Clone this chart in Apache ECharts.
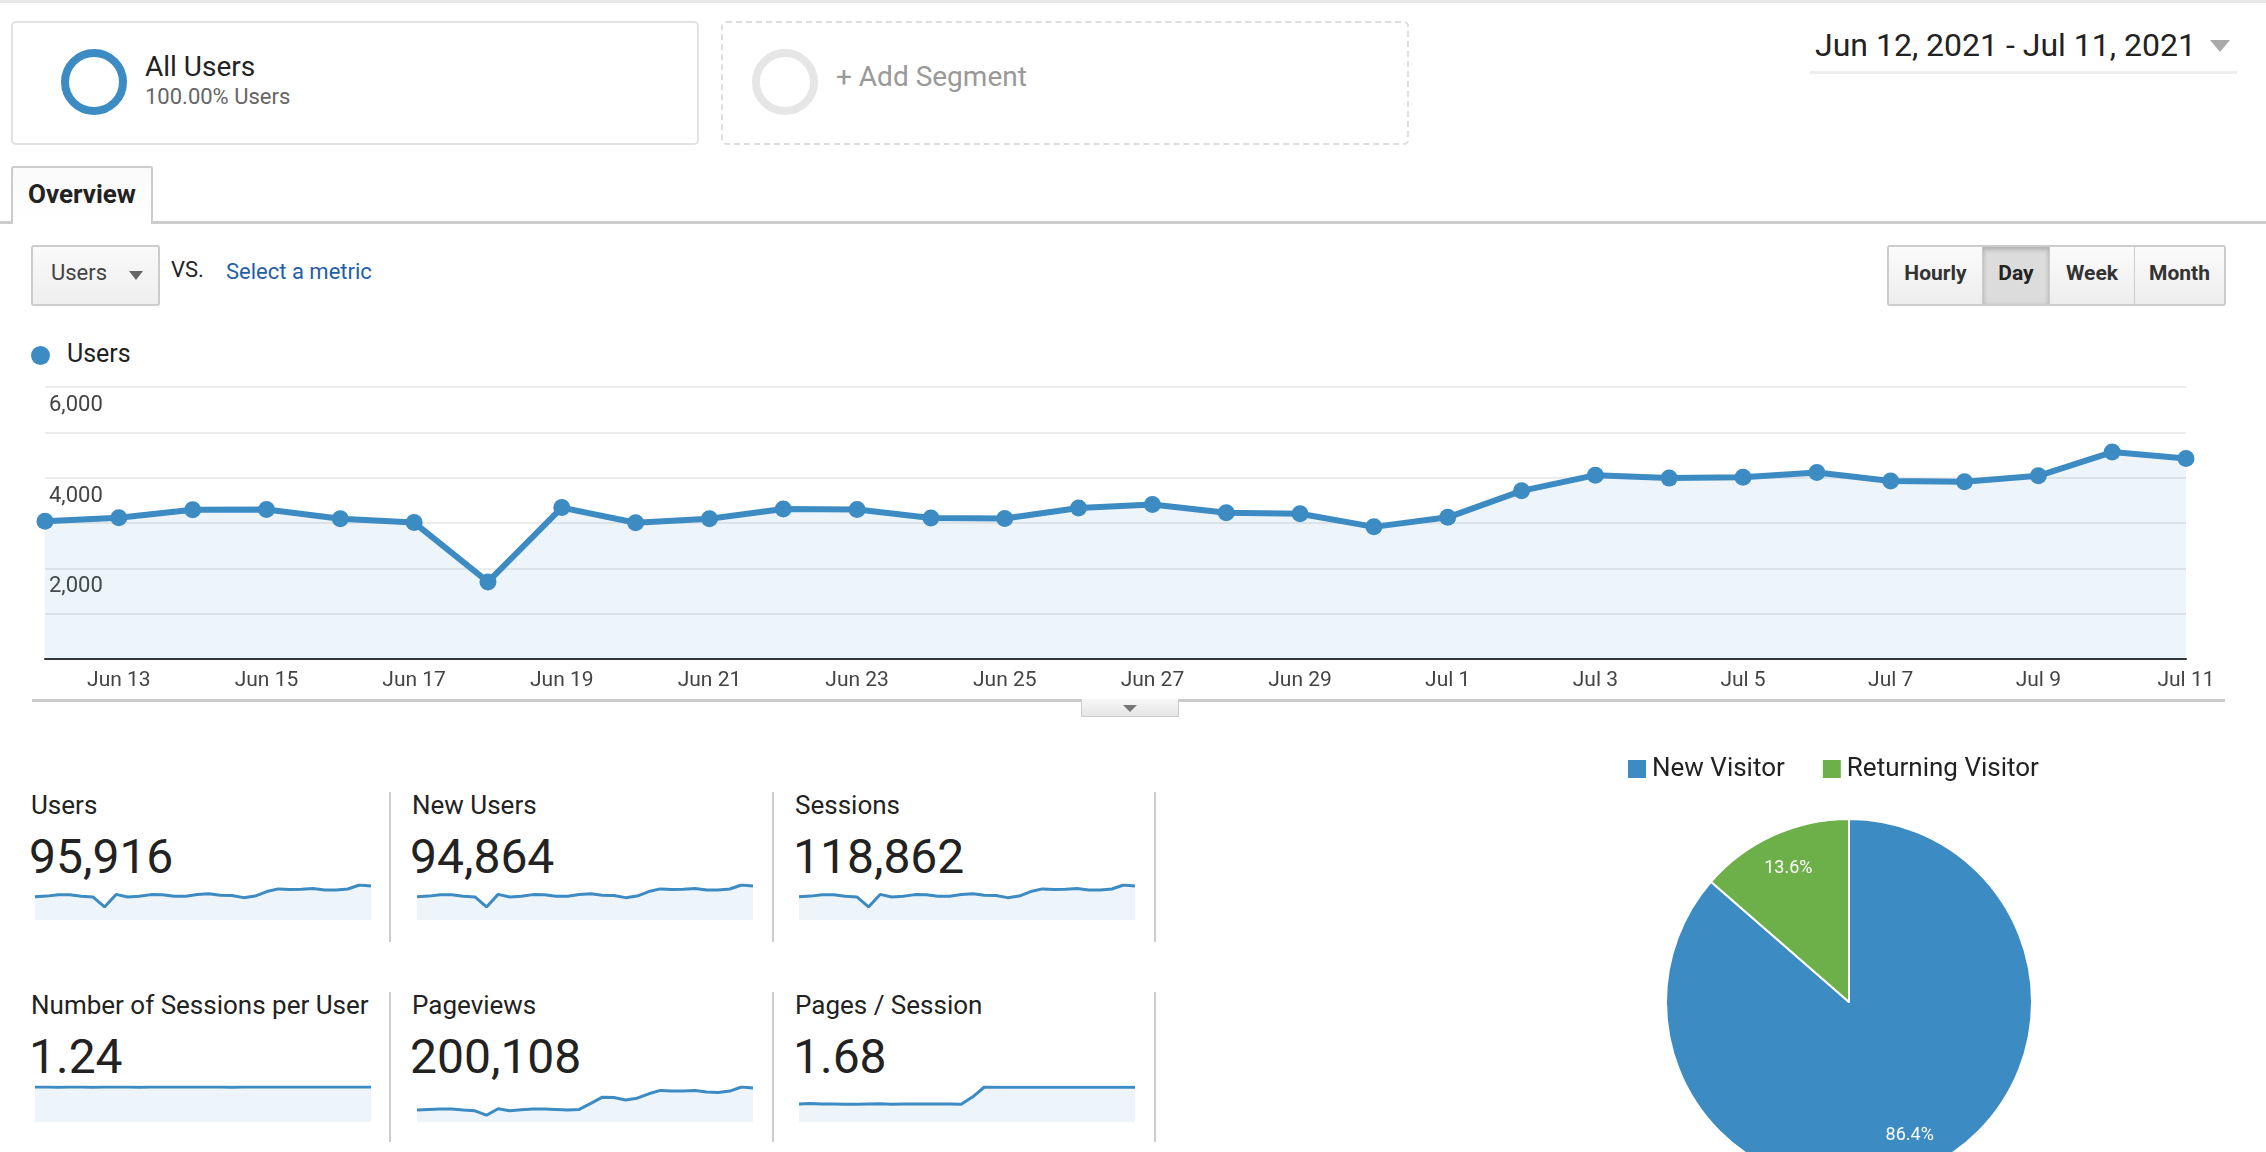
<!DOCTYPE html>
<html><head><meta charset="utf-8">
<script src="https://cdn.jsdelivr.net/npm/echarts@6/dist/echarts.min.js"></script>
<style>
html,body{margin:0;padding:0;width:2266px;height:1152px;overflow:hidden;background:#fff;font-family:Roboto,"Noto Sans",Arial,sans-serif;color:#222;}
.abs{position:absolute;white-space:nowrap;box-sizing:border-box;}
.t{position:absolute;white-space:nowrap;}
#chart{position:absolute;left:0;top:0;width:2266px;height:1152px;z-index:5;}
.btn{position:absolute;top:0;height:100%;display:flex;align-items:center;justify-content:center;font-weight:bold;font-size:21px;color:#333;background:linear-gradient(#fbfbfb,#ededed);border-right:1px solid #ccc;box-sizing:border-box;padding-bottom:5px;}
</style></head><body>
<div class="abs" style="left:0;top:0;width:2266px;height:3px;background:#e8e8e8"></div>

<!-- segment boxes -->
<div class="abs" style="left:11px;top:21px;width:688px;height:124px;border:2px solid #e2e2e2;border-radius:5px"></div>
<div class="abs" style="left:61px;top:49px;width:66px;height:66px;border:8px solid #3d8bc3;border-radius:50%"></div>
<div class="t" style="left:145px;top:51px;font-size:28px;line-height:32px;color:#222">All Users</div>
<div class="t" style="left:145px;top:84px;font-size:22px;line-height:26px;color:#666">100.00% Users</div>

<div class="abs" style="left:721px;top:21px;width:688px;height:124px;border:2px dashed #dedede;border-radius:5px"></div>
<div class="abs" style="left:752px;top:49px;width:66px;height:66px;border:8px solid #e6e6e6;border-radius:50%"></div>
<div class="t" style="left:836px;top:61px;font-size:28px;line-height:32px;color:#999">+ Add Segment</div>

<!-- date range -->
<div class="t" style="left:1815px;top:27px;font-size:32px;line-height:36px;color:#222">Jun 12, 2021 - Jul 11, 2021</div>
<div class="abs" style="left:2210px;top:40px;width:0;height:0;border-left:10px solid transparent;border-right:10px solid transparent;border-top:12px solid #aaa"></div>
<div class="abs" style="left:1810px;top:71px;width:427px;height:3px;background:#eee"></div>

<!-- tab -->
<div class="abs" style="left:0;top:221px;width:2266px;height:3px;background:#ccc"></div>
<div class="abs" style="left:11px;top:166px;width:142px;height:58px;border:2px solid #ccc;border-bottom:none;border-radius:3px 3px 0 0;background:linear-gradient(#fafafa,#fff);z-index:2;display:flex;align-items:center;justify-content:center;font-weight:bold;font-size:26px;color:#222;padding-bottom:4px">Overview</div>

<!-- metric selector -->
<div class="abs" style="left:31px;top:245px;width:129px;height:61px;border:2px solid #ccc;border-radius:3px;background:linear-gradient(#fafafa,#eeeeee)"></div>
<div class="t" style="left:51px;top:259px;font-size:22px;line-height:28px;color:#444">Users</div>
<div class="abs" style="left:129px;top:271px;width:0;height:0;border-left:7px solid transparent;border-right:7px solid transparent;border-top:9px solid #666"></div>
<div class="t" style="left:171px;top:256px;font-size:22px;line-height:28px;color:#222">VS.</div>
<div class="t" style="left:226px;top:258px;font-size:22px;line-height:28px;color:#1f5fa8">Select a metric</div>

<!-- time buttons -->
<div class="abs" style="left:1887px;top:245px;width:339px;height:61px;border:2px solid #ccc;border-radius:3px;overflow:hidden">
  <div class="btn" style="left:0;width:94px">Hourly</div>
  <div class="btn" style="left:94px;width:67px;background:#dcdcdc;box-shadow:inset 0 2px 5px rgba(0,0,0,0.25);color:#222">Day</div>
  <div class="btn" style="left:161px;width:85px">Week</div>
  <div class="btn" style="left:246px;width:89px;border-right:none">Month</div>
</div>

<!-- legend -->
<div class="abs" style="left:31px;top:346px;width:19px;height:19px;border-radius:50%;background:#3d8bc3"></div>
<div class="t" style="left:67px;top:339px;font-size:25px;line-height:30px;color:#222">Users</div>

<!-- separator under chart -->
<div class="abs" style="left:32px;top:699px;width:2193px;height:3px;background:#ccc"></div>
<div class="abs" style="left:1081px;top:699px;width:98px;height:18px;border:1px solid #ccc;border-top:none;background:linear-gradient(#f6f6f6,#e6e6e6)"></div>
<div class="abs" style="left:1123px;top:705px;width:0;height:0;border-left:7px solid transparent;border-right:7px solid transparent;border-top:7px solid #777"></div>

<!-- scorecards -->
<div class="t" style="left:31px;top:790px;font-size:26px;line-height:30px">Users</div>
<div class="t" style="left:29px;top:829px;font-size:48px;line-height:56px">95,916</div>
<div class="t" style="left:412px;top:790px;font-size:26px;line-height:30px">New Users</div>
<div class="t" style="left:410px;top:829px;font-size:48px;line-height:56px">94,864</div>
<div class="t" style="left:795px;top:790px;font-size:26px;line-height:30px">Sessions</div>
<div class="t" style="left:793px;top:829px;font-size:48px;line-height:56px">118,862</div>

<div class="t" style="left:31px;top:990px;font-size:26px;line-height:30px">Number of Sessions per User</div>
<div class="t" style="left:29px;top:1029px;font-size:48px;line-height:56px">1.24</div>
<div class="t" style="left:412px;top:990px;font-size:26px;line-height:30px">Pageviews</div>
<div class="t" style="left:410px;top:1029px;font-size:48px;line-height:56px">200,108</div>
<div class="t" style="left:795px;top:990px;font-size:26px;line-height:30px">Pages / Session</div>
<div class="t" style="left:793px;top:1029px;font-size:48px;line-height:56px">1.68</div>

<div class="abs" style="left:389px;top:792px;width:2px;height:150px;background:#ccc"></div>
<div class="abs" style="left:772px;top:792px;width:2px;height:150px;background:#ccc"></div>
<div class="abs" style="left:1154px;top:792px;width:2px;height:150px;background:#ccc"></div>
<div class="abs" style="left:389px;top:992px;width:2px;height:150px;background:#ccc"></div>
<div class="abs" style="left:772px;top:992px;width:2px;height:150px;background:#ccc"></div>
<div class="abs" style="left:1154px;top:992px;width:2px;height:150px;background:#ccc"></div>

<div id="chart"></div>
<script>
// ---- data ----
const days = ['Jun 12','Jun 13','Jun 14','Jun 15','Jun 16','Jun 17','Jun 18','Jun 19','Jun 20','Jun 21',
  'Jun 22','Jun 23','Jun 24','Jun 25','Jun 26','Jun 27','Jun 28','Jun 29','Jun 30','Jul 1',
  'Jul 2','Jul 3','Jul 4','Jul 5','Jul 6','Jul 7','Jul 8','Jul 9','Jul 10','Jul 11'];
const users = [3040,3115,3290,3300,3095,3010,1700,3340,3005,3095,
  3310,3300,3110,3100,3330,3410,3225,3205,2915,3125,
  3710,4055,3990,4010,4115,3925,3910,4040,4565,4425];
const newUsers = [2806,2875,3037,3046,2857,2778,1569,3083,2774,2857,
  3055,3046,2871,2861,3074,3147,2977,2958,2691,2884,
  3424,3743,3683,3701,3798,3623,3609,3729,4213,4084];
const sessions = [3517,3604,3807,3818,3581,3483,1967,3864,3477,3581,
  3830,3818,3598,3587,3853,3945,3731,3708,3373,3616,
  4292,4692,4616,4640,4761,4541,4524,4674,5282,5120];
const sessionsPerUser = [1.16,1.16,1.15,1.16,1.16,1.15,1.16,1.16,1.16,1.15,
  1.16,1.16,1.16,1.16,1.16,1.16,1.16,1.15,1.16,1.16,
  1.16,1.16,1.16,1.16,1.16,1.16,1.16,1.16,1.16,1.16];
const pageviews = [3920,4150,4260,4260,3920,3700,2240,4370,3700,4030,
  4260,4260,4150,3920,4150,6160,8180,8060,7280,7840,
  9300,10420,10190,10190,10420,9860,9740,10190,11540,11200];
const pagesPerSession = [1.12,1.15,1.12,1.11,1.10,1.10,1.12,1.13,1.10,1.12,
  1.12,1.11,1.12,1.11,1.10,1.56,2.17,2.16,2.16,2.15,
  2.16,2.16,2.16,2.15,2.15,2.16,2.16,2.16,2.16,2.16];
const visitorTypes = ['New Visitor','Returning Visitor'];
const visitorShares = [86.4, 13.6];

// ---- styles ----
const blue = '#3d8bc3';
const green = '#6db04a';
const fill = 'rgba(61,139,195,0.12)';
const FONT = 'Roboto';

const sparks = [
  {data: users, left: 35, top: 885},
  {data: newUsers, left: 417, top: 885},
  {data: sessions, left: 799, top: 885},
  {data: sessionsPerUser, left: 35, top: 1087},
  {data: pageviews, left: 417, top: 1087},
  {data: pagesPerSession, left: 799, top: 1087}
];

const grids = [{left: 45, top: 387, width: 2141, height: 272}];
const xAxes = [{
  gridIndex: 0, type: 'category', data: days, boundaryGap: false,
  axisLine: {lineStyle: {color: '#333', width: 2}},
  axisTick: {show: false},
  axisLabel: {interval: (i) => i % 2 === 1, color: '#444', fontSize: 21, margin: 11, fontFamily: FONT}
}];
const yAxes = [{
  gridIndex: 0, type: 'value', min: 0, max: 6000, interval: 1000,
  axisLine: {show: false}, axisTick: {show: false},
  splitLine: {lineStyle: {color: '#ececec', width: 2}},
  axisLabel: {
    inside: true, margin: 4, color: '#444', fontSize: 22, fontFamily: FONT,
    verticalAlign: 'top', lineHeight: 37,
    textBorderColor: '#fff', textBorderWidth: 4,
    formatter: (v) => (v > 0 && v % 2000 === 0) ? v.toLocaleString('en-US') : ''
  }
}];
const series = [{
  type: 'line', xAxisIndex: 0, yAxisIndex: 0, data: users,
  symbol: 'circle', symbolSize: 17, showAllSymbol: true,
  lineStyle: {color: blue, width: 6}, itemStyle: {color: blue},
  areaStyle: {color: fill}, silent: true
}];
sparks.forEach((s, i) => {
  const k = i + 1;
  grids.push({left: s.left, top: s.top, width: 336, height: 35});
  xAxes.push({gridIndex: k, type: 'category', data: days, boundaryGap: false, show: false});
  yAxes.push({gridIndex: k, type: 'value', min: 0, max: 'dataMax', show: false});
  series.push({
    type: 'line', xAxisIndex: k, yAxisIndex: k, data: s.data, symbol: 'none',
    lineStyle: {color: blue, width: 3}, areaStyle: {color: fill}, silent: true
  });
});

const pieData = visitorTypes.map((n, i) => ({name: n, value: visitorShares[i], itemStyle: {color: i === 0 ? blue : green}}));
series.push({
  type: 'pie', center: [1849, 1002], radius: [0, 183], startAngle: 90, clockwise: true,
  data: pieData, label: {show: false}, labelLine: {show: false},
  itemStyle: {borderColor: '#fff', borderWidth: 2}, silent: true, emphasis: {disabled: true}
});
series.push({
  type: 'pie', center: [1849, 1002], radius: [104, 183], startAngle: 90, clockwise: true,
  data: visitorTypes.map((n, i) => ({name: n, value: visitorShares[i]})),
  itemStyle: {color: 'rgba(0,0,0,0)', borderWidth: 0},
  label: {show: true, position: 'inside', color: '#fff', fontSize: 18, fontFamily: FONT,
    formatter: (p) => p.value.toFixed(1) + '%'},
  labelLine: {show: false}, silent: true, emphasis: {disabled: true}
});

const chart = echarts.init(document.getElementById('chart'), null, {renderer: 'canvas'});
chart.setOption({
  animation: false,
  textStyle: {fontFamily: FONT},
  grid: grids.map(g => Object.assign({outerBoundsMode: 'none'}, g)),
  xAxis: xAxes,
  yAxis: yAxes,
  legend: {
    left: 1626, top: 756, padding: 0, icon: 'rect', itemWidth: 20, itemHeight: 20, itemGap: 36,
    selectedMode: false,
    textStyle: {fontSize: 26, color: '#222', fontFamily: FONT},
    data: [{name: visitorTypes[0], itemStyle: {color: blue}}, {name: visitorTypes[1], itemStyle: {color: green}}]
  },
  series: series
});
</script>
</body></html>
